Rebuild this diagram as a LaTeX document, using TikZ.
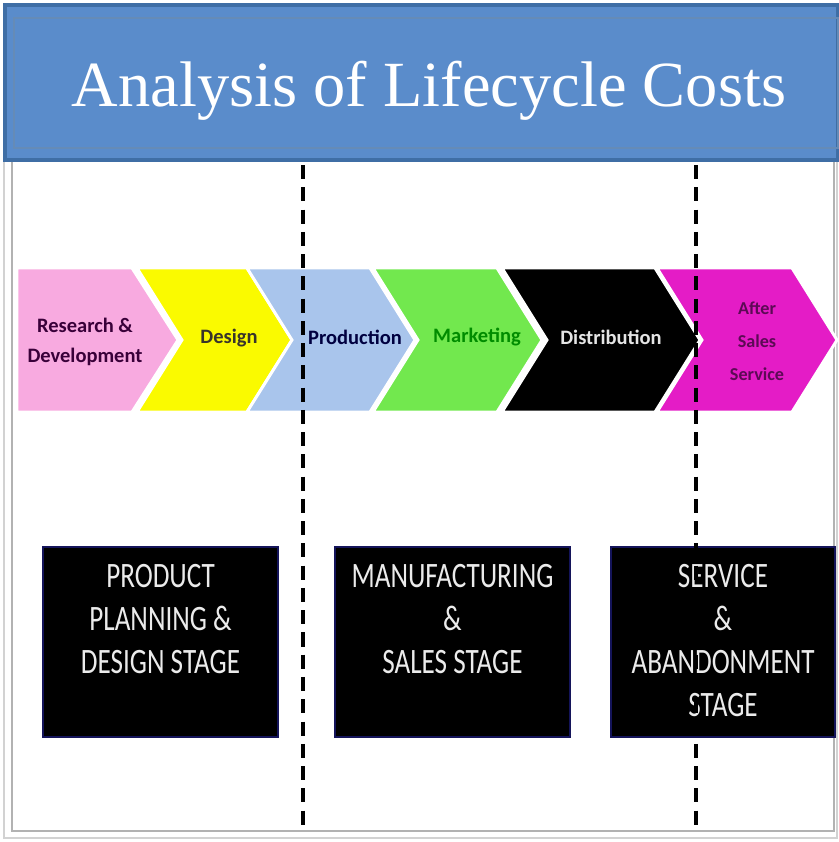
\documentclass[tikz,border=0pt]{standalone}
\usepackage{fontspec}
\setmainfont{Liberation Serif}
\newfontfamily\calfont{Carlito}
\newfontfamily\stagefont{Carlito}[FakeStretch=0.76]
\usetikzlibrary{positioning}
\definecolor{titleblue}{HTML}{5A8CCB}
\definecolor{titleedge}{HTML}{3F6EA5}
\definecolor{rdpink}{HTML}{F8AAE0}
\definecolor{dsyellow}{HTML}{FAFA00}
\definecolor{prblue}{HTML}{A9C5EC}
\definecolor{mkgreen}{HTML}{72E84E}
\definecolor{asmagenta}{HTML}{E41CC6}
\definecolor{asdark}{HTML}{5C0A55}
\definecolor{boxnavy}{HTML}{14145A}
\tikzset{
    chevron/.style = {draw=white, line width=2.5pt, line join=miter},
    lbl/.style = {align=center, inner sep=0pt, font=\calfont\bfseries\fontsize{17.5}{25}\selectfont},
    lbls/.style = {align=center, inner sep=0pt, font=\calfont\bfseries\fontsize{15.5}{28}\selectfont},
    stagebox/.style = {rectangle, draw=boxnavy, line width=2.5pt, fill=black, minimum width=7.05cm, minimum height=5.7cm},
    stagetext/.style = {align=center, inner sep=0pt, text=white!92!black, font=\stagefont\fontsize{30.5}{36.7}\selectfont},
    divider/.style = {line width=2.6pt, dash pattern=on 12pt off 7pt}
}
\newcommand{\Chev}[3]{% top left x, top right x, colour
  \filldraw[chevron, fill=#3] (#1,268) -- (#2,268) -- ({#2+45},340) -- (#2,412) -- (#1,412) -- ({#1+45},340) -- cycle;
}

\begin{document}
\begin{tikzpicture}[x=0.03cm, y=-0.03cm]
\useasboundingbox (0,0) rectangle (838,842);

% frame
\draw[gray!35, line width=2pt] (4,160) rectangle (837,838);
\draw[gray!60, line width=1pt] (12,160) rectangle (834,831);

% title bar
\filldraw[fill=titleblue, draw=titleedge, line width=3pt] (5,5) rectangle (838,160);
\draw[titleedge!80, line width=1pt] (14,18) rectangle (838,148);
\node[anchor=base, text=white, font=\fontsize{55}{62}\selectfont] at (429,107) (title) {Analysis of Lifecycle Costs};

% chevrons
\filldraw[chevron, fill=rdpink] (17,268) -- (132,268) -- (178,340) -- (132,412) -- (17,412) -- cycle;
\Chev{137}{247}{dsyellow}
\Chev{247}{370}{prblue}
\Chev{373}{497}{mkgreen}
\Chev{502}{655}{black}
\Chev{657}{792}{asmagenta}

\node[lbl, text=black!55!violet] at (85,342) (rd) {Research \&\\Development};
\node[lbl, text=black!80!olive] at (229,338) (design) {Design};
\node[lbl, text=black!75!blue] at (355,337) (prod) {Production};
\node[lbl, text=black!45!green] at (477,337) (mkt) {Marketing};
\node[lbl, text=white!90!black] at (611,337) (dist) {Distribution};
\node[lbls, text=asdark] at (757,341) (after) {After\\Sales\\Service};

% stages
\node[stagebox] at (160.5,642) (plan) {};
\node[stagebox] at (452.5,642) (manu) {};
\node[stagebox, minimum width=6.72cm] at (723,642) (serv) {};
\node[stagetext, below=0.55cm of plan.north] (plantxt) {PRODUCT\\PLANNING \&\\DESIGN STAGE};
\node[stagetext, below=0.55cm of manu.north] (manutxt) {MANUFACTURING\\\&\\SALES STAGE};
\node[stagetext, below=0.55cm of serv.north] (servtxt) {SERVICE\\\&\\ABANDONMENT\\STAGE};

% dividers
\coordinate (d1t) at (303,165);
\coordinate (d1b) at (303,826);
\coordinate (d2t) at (696,165);
\coordinate (d2b) at (696,826);
\draw[divider] (d1t) -- (d1b);
\draw[divider] (d2t) -- (d2b);

\end{tikzpicture}
\end{document}
